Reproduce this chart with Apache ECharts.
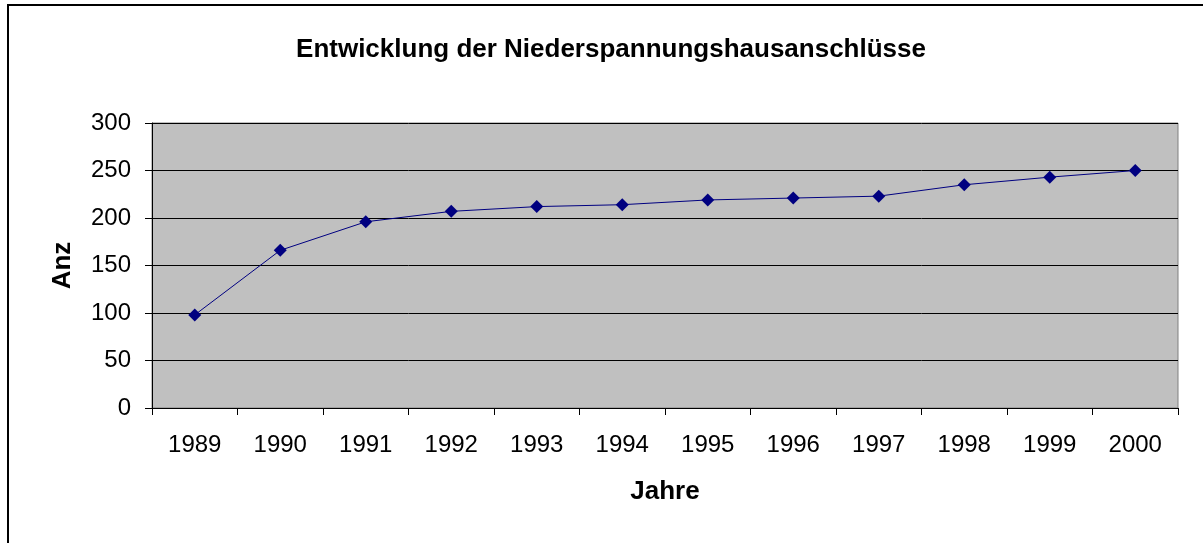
<!DOCTYPE html>
<html>
<head>
<meta charset="utf-8">
<script src="https://cdn.jsdelivr.net/npm/echarts@6/dist/echarts.min.js"></script>
<style>
html,body{margin:0;padding:0;background:#fff;}
#c{width:1203px;height:543px;}
</style>
</head>
<body>
<div id="c"></div>
<script>
var categories = ['1989','1990','1991','1992','1993','1994','1995','1996','1997','1998','1999','2000'];
var values = [98, 166, 196, 207, 212, 214, 219, 221, 223, 235, 243, 250];
var yTicks = [0, 50, 100, 150, 200, 250, 300];
var titleText = 'Entwicklung der Niederspannungshausanschlüsse';

var chart = echarts.init(document.getElementById('c'));
chart.setOption({
  animation: false,
  backgroundColor: '#ffffff',
  title: {
    text: titleText,
    left: 606, top: 32, textAlign: 'center',
    textStyle: {fontFamily: 'Liberation Sans, Arial', fontWeight: 'bold', fontSize: 26, color: '#000'}
  },
  graphic: [{
    type: 'rect', silent: true,
    shape: {x: 8, y: 5, width: 1400, height: 800},
    style: {fill: 'none', stroke: '#000', lineWidth: 2}
  }],
  grid: {left: 152, right: 25, top: 123, bottom: 135, show: true,
    backgroundColor: '#C0C0C0', borderColor: '#808080', borderWidth: 1},
  xAxis: {
    type: 'category', data: categories, boundaryGap: true,
    name: 'Jahre', nameLocation: 'middle', nameGap: 71,
    nameTextStyle: {fontFamily: 'Liberation Sans, Arial', fontWeight: 'bold', fontSize: 26, color: '#000'},
    axisLine: {lineStyle: {color: '#000', width: 1}},
    axisTick: {show: true, inside: false, length: 7, lineStyle: {color: '#000'}, alignWithLabel: false},
    axisLabel: {fontFamily: 'Liberation Sans, Arial', fontSize: 24, color: '#000', margin: 25},
    splitLine: {show: false}
  },
  yAxis: {
    type: 'value', min: yTicks[0], max: yTicks[yTicks.length-1], interval: 50,
    name: 'Anz', nameLocation: 'middle', nameGap: 76, nameRotate: 90,
    nameTextStyle: {fontFamily: 'Liberation Sans, Arial', fontWeight: 'bold', fontSize: 26, color: '#000'},
    axisLine: {show: true, lineStyle: {color: '#000', width: 1}},
    axisTick: {show: true, inside: false, length: 7, lineStyle: {color: '#000'}},
    axisLabel: {fontFamily: 'Liberation Sans, Arial', fontSize: 24, color: '#000', margin: 21},
    splitLine: {show: true, lineStyle: {color: '#000', width: 1}}
  },
  series: [{
    type: 'line', data: values,
    symbol: 'diamond', symbolSize: 13,
    lineStyle: {color: '#000080', width: 1},
    itemStyle: {color: '#000080'}
  }]
});
</script>
</body>
</html>
